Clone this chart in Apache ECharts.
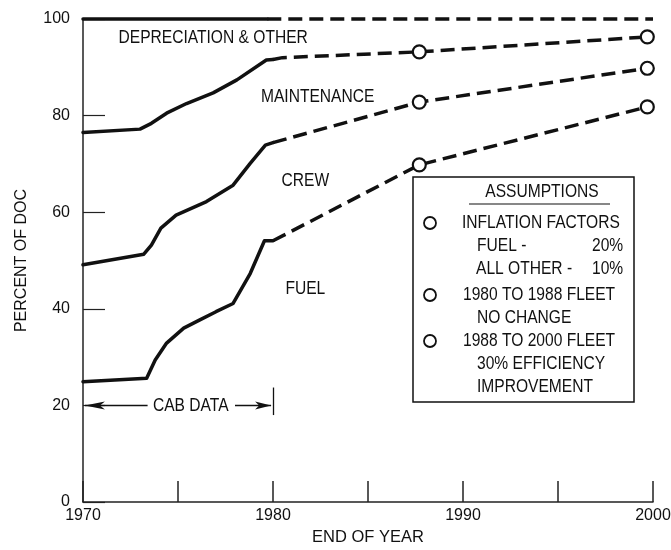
<!DOCTYPE html>
<html>
<head>
<meta charset="utf-8">
<script src="https://cdn.jsdelivr.net/npm/echarts@6/dist/echarts.min.js"></script>
<style>
html,body{margin:0;padding:0;background:#fff;}
#chart{width:671px;height:550px;}
</style>
</head>
<body>
<div id="chart"></div>
<script>
// ---- Data (year, percent of DOC) ----
const xTicks = [1970, 1980, 1990, 2000];
const yTicks = [0, 20, 40, 60, 80, 100];

// Boundary between "Depreciation & other" and top (100%)
const topSolid  = [[1970, 100], [1979.7, 100]];
const topDashed = [[1979.7, 100], [2000, 100]];

// Top of maintenance band
const maintSolid  = [[1970, 76.5], [1973.0, 77.2], [1973.6, 78.4], [1974.4, 80.5], [1975.45, 82.5], [1976.85, 84.7], [1978.1, 87.4], [1979.65, 91.5], [1980.0, 91.6]];
const maintDashed = [[1980.0, 91.6], [1980.5, 92.0], [1987.7, 93.2], [1999.7, 96.3]];

// Top of crew band
const crewSolid  = [[1970, 49.1], [1973.2, 51.3], [1973.6, 53.2], [1974.1, 56.7], [1974.9, 59.4], [1976.5, 62.2], [1977.9, 65.6], [1978.8, 70.1], [1979.6, 73.9], [1980.0, 74.4]];
const crewDashed = [[1980.0, 74.4], [1987.7, 82.8], [1999.7, 89.8]];

// Top of fuel band
const fuelSolid  = [[1970, 24.9], [1973.35, 25.6], [1973.8, 29.4], [1974.4, 32.9], [1975.3, 36.0], [1976.15, 37.7], [1977.0, 39.4], [1977.9, 41.1], [1978.8, 47.3], [1979.55, 54.1], [1980.0, 54.1]];
const fuelDashed = [[1980.0, 54.1], [1980.6, 55.3], [1987.7, 69.8], [1999.7, 81.8]];

// Years at which projected points are circled
const circledYears = [1987.7, 1999.7];

// Band labels [text, year, value]
const bandLabels = [
  ['DEPRECIATION & OTHER', 1976.85, 96.1],
  ['MAINTENANCE', 1982.35, 84.0],
  ['CREW', 1981.7, 66.5],
  ['FUEL', 1981.7, 44.2],
  ['CAB DATA', 1975.67, 20]
];

// CAB data span
const cabSpan = [1970, 1980];
const cabLevel = 20;

// ---- Styling / option construction ----
const FONT = '"Liberation Sans", Arial, sans-serif';
const INK = '#111';
const NARROW = 0.82;

function dashedData(arr) {
  return arr.map(p => circledYears.includes(p[0]) ? {value: p} : {value: p, symbol: 'none'});
}
function solidSeries(d) {
  return {type: 'line', data: d, showSymbol: false, symbol: 'none', clip: false, silent: true,
    lineStyle: {color: INK, width: 3.5, cap: 'round', join: 'round'}, z: 3};
}
function dashedSeries(d) {
  return {type: 'line', data: dashedData(d), symbol: 'circle', symbolSize: 13, showSymbol: true, clip: false, silent: true,
    lineStyle: {color: INK, width: 3.5, type: [14, 7]},
    itemStyle: {color: '#fff', borderColor: INK, borderWidth: 2.2}, z: 4};
}
function narrowText(t, x, y, align, extra) {
  return Object.assign({type: 'text', x: x, y: y, scaleX: NARROW, z: 11,
    style: {text: t, font: '19px ' + FONT, fill: INK, textAlign: align, textVerticalAlign: 'middle'}}, extra || {});
}

const chart = echarts.init(document.getElementById('chart'), null, {renderer: 'canvas'});

const legendX = 413, legendY = 177;
const legendTexts = [
  {t: 'INFLATION FACTORS', x: 462, y: 223},
  {t: 'FUEL -', x: 477, y: 246},
  {t: '20%', x: 592, y: 246},
  {t: 'ALL OTHER -', x: 476, y: 269},
  {t: '10%', x: 592, y: 269},
  {t: '1980 TO 1988 FLEET', x: 463, y: 295},
  {t: 'NO CHANGE', x: 477, y: 318},
  {t: '1988 TO 2000 FLEET', x: 463, y: 341},
  {t: '30% EFFICIENCY', x: 477, y: 364},
  {t: 'IMPROVEMENT', x: 477, y: 387}
];
const legendCircles = [223, 295, 341];

function legendGraphics() {
  const g = [
    {type: 'rect', shape: {x: legendX, y: legendY, width: 221, height: 225},
     style: {fill: '#fff', stroke: INK, lineWidth: 1.5}, z: 10},
    narrowText('ASSUMPTIONS', 542, 191.5, 'center'),
    {type: 'line', shape: {x1: 469, y1: 204, x2: 610, y2: 204}, style: {stroke: INK, lineWidth: 1.2}, z: 11}
  ];
  legendTexts.forEach(o => g.push(narrowText(o.t, o.x, o.y, 'left')));
  legendCircles.forEach(cy => g.push({type: 'circle', shape: {cx: 430, cy: cy, r: 6},
    style: {fill: '#fff', stroke: INK, lineWidth: 1.8}, z: 11}));
  return g;
}

const option = {
  backgroundColor: '#fff',
  animation: false,
  grid: {left: 83, right: 18, top: 19, bottom: 48, containLabel: false, outerBoundsMode: 'none'},
  xAxis: {
    type: 'value', min: 1970, max: 2000, interval: 5,
    name: 'END OF YEAR', nameLocation: 'middle', nameGap: 24,
    nameTextStyle: {fontFamily: FONT, fontSize: 16.5, color: INK},
    axisLine: {show: true, lineStyle: {color: '#222', width: 1.5}},
    axisTick: {show: true, inside: true, length: 21, lineStyle: {color: '#222', width: 1.5}},
    axisLabel: {fontFamily: FONT, fontSize: 16, color: INK, margin: 6,
      formatter: v => xTicks.includes(v) ? String(v) : ''},
    splitLine: {show: false}
  },
  yAxis: {
    type: 'value', min: 0, max: 100, interval: 20,
    name: 'PERCENT OF DOC', nameLocation: 'middle', nameGap: 53, nameRotate: 90,
    nameTextStyle: {fontFamily: FONT, fontSize: 16, color: INK},
    axisLine: {show: true, lineStyle: {color: '#222', width: 1.5}},
    axisTick: {show: true, inside: true, length: 22, lineStyle: {color: '#222', width: 1.2}},
    axisLabel: {fontFamily: FONT, fontSize: 16, color: INK, margin: 13,
      formatter: v => yTicks.includes(v) ? String(v) : ''},
    splitLine: {show: false}
  },
  graphic: legendGraphics(),
  series: [
    solidSeries(topSolid), dashedSeries(topDashed),
    solidSeries(maintSolid), dashedSeries(maintDashed),
    solidSeries(crewSolid), dashedSeries(crewDashed),
    solidSeries(fuelSolid), dashedSeries(fuelDashed),
    {
      type: 'line', data: [], silent: true,
      markLine: {
        silent: true, animation: false, label: {show: false},
        lineStyle: {color: INK, width: 1.3, type: 'solid'},
        data: [
          [{coord: [cabSpan[0] + 0.1, cabLevel], symbol: 'arrow', symbolSize: [6, 20]},
           {coord: [1973.4, cabLevel], symbol: 'none'}],
          [{coord: [1978.0, cabLevel], symbol: 'none'},
           {coord: [cabSpan[1] - 0.1, cabLevel], symbol: 'arrow', symbolSize: [6, 16]}],
          [{coord: [cabSpan[1], cabLevel - 2.0], symbol: 'none'},
           {coord: [cabSpan[1], cabLevel + 3.7], symbol: 'none'}]
        ]
      }
    }
  ]
};
chart.setOption(option);

// Band labels placed through the chart's own scales
const labelGraphics = bandLabels.map(b => {
  const p = chart.convertToPixel({gridIndex: 0}, [b[1], b[2]]);
  return narrowText(b[0], p[0], p[1], 'center', {z: 6});
});
chart.setOption({graphic: legendGraphics().concat(labelGraphics)});
</script>
</body>
</html>
